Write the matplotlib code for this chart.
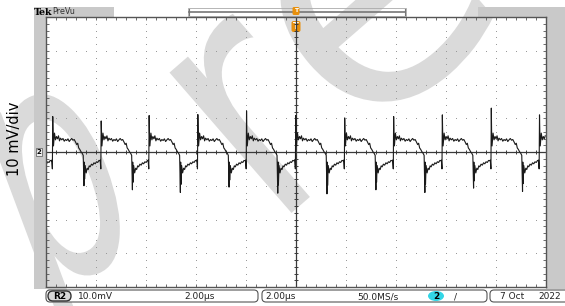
import numpy as np
import matplotlib.pyplot as plt
from matplotlib.patches import Rectangle, FancyBboxPatch, Ellipse, PathPatch
from matplotlib.textpath import TextPath
from matplotlib.transforms import Affine2D
from matplotlib.font_manager import FontProperties

W, H = 565, 306

# screen setup: 10 x 8 divisions, 2 us/div and 10 mV/div
t_div = 2.0
v_div = 10.0
n_xdiv, n_ydiv = 10, 8

# rising spike times (us) and spike tops (mV), one per switching cycle
spike_t = [0.27, 2.21, 4.13, 6.08, 8.03, 10.0, 11.96, 13.92, 15.87, 17.83, 19.76]
spike_top = [10.5, 9.2, 10.8, 11.1, 12.2, 10.8, 10.1, 10.5, 11.0, 13.0, 11.0]
# falling spike bottoms (mV), about 1.26 us after each rising spike
spike_low = [-10.0, -11.2, -12.0, -10.4, -12.2, -12.4, -11.2, -12.0, -10.7, -11.7, -11.0]
period = 1.95

# one cycle: offset from rising spike (us), level (mV)
# the spikes are filled in from the lists above (index TOP / LOW / LOW2)
cyc_dt = [-0.04, -0.015, 0.0, 0.012, 0.03, 0.07, 0.11, 0.15, 0.19, 0.23, 0.27,
          0.31, 0.36, 0.41, 0.46, 0.51, 0.56, 0.61, 0.66, 0.71, 0.76, 0.81,
          0.86, 0.91, 0.96, 1.00, 1.04, 1.08, 1.13, 1.18, 1.22, 1.25, 1.262,
          1.275, 1.30, 1.34, 1.38, 1.42, 1.46, 1.50, 1.55, 1.60, 1.65, 1.70,
          1.75, 1.80, 1.85, 1.89]
cyc_mv = [-2.4, -5.0, 0.0, 6.0, 1.8, 5.6, 3.6, 4.6, 3.9, 4.8, 3.3,
          4.1, 3.6, 4.0, 3.2, 3.7, 3.4, 3.9, 3.1, 3.6, 4.0, 3.5,
          3.7, 3.0, 2.2, 2.6, 1.2, 0.8, 0.1, -0.4, -1.0, 0.0, -3.0,
          0.0, -4.0, -6.2, -4.8, -5.2, -4.1, -4.4, -3.6, -3.9, -3.2, -3.5,
          -2.9, -3.1, -2.5, -2.6]
TOP, LOW, LOW2 = 2, 31, 33

# watermark letters: char, x scale, y scale, rotation, origin x, origin y (pixels, y up)
wm_letters = [('p', 200, 330, 20.5, 30, 12),
              ('r', 270, 340, 41, 273, 77),
              ('e', 350, 350, 41, 357, 158)]

# build the trace cycle by cycle
tt, vv = [], []
starts = [spike_t[0] - period] + spike_t
tops = [spike_top[-1]] + spike_top
lows = [spike_low[-1]] + spike_low
for s, p, d in zip(starts, tops, lows):
    lv = list(cyc_mv)
    lv[TOP] = p
    lv[LOW] = d
    lv[LOW2] = 0.8 * d
    for dt, v in zip(cyc_dt, lv):
        tt.append(s + dt)
        vv.append(v)
tt = np.array(tt)
vv = np.array(vv)
keep = (tt >= 0) & (tt <= 20)
tt, vv = tt[keep], vv[keep]

fig = plt.figure(figsize=(W / 100, H / 100), dpi=100)
fig.patch.set_facecolor('white')

# watermark layer
wm = fig.add_axes([0, 0, 1, 1])
wm.set_xlim(0, W)
wm.set_ylim(0, H)
wm.axis('off')
wm.set_zorder(0)
fp = FontProperties(family='DejaVu Sans')
for ch, sx, sy, rot, ox, oy in wm_letters:
    path = TextPath((0, 0), ch, size=1, prop=fp)
    tr = Affine2D().scale(sx, sy).rotate_deg(rot).translate(ox, oy) + wm.transData
    wm.add_patch(PathPatch(path, transform=tr, fc='#dadada', ec='none'))

# chrome layer in pixel coordinates (y down)
bg = fig.add_axes([0, 0, 1, 1])
bg.set_xlim(0, W)
bg.set_ylim(H, 0)
bg.axis('off')
bg.patch.set_alpha(0)
bg.set_zorder(1)

gray = '#c9c9c9'
bg.add_patch(Rectangle((34, 17), 12, 272, color=gray, lw=0))
bg.add_patch(Rectangle((34, 7), 80, 10, color=gray, lw=0))
bg.add_patch(Rectangle((478, 7), 87, 10, color=gray, lw=0))
bg.add_patch(Rectangle((546, 17), 19, 272, color=gray, lw=0))

# header
bg.text(33.5, 12.5, 'Tek', fontsize=6.8, fontweight='bold', family='DejaVu Serif',
        va='center', ha='left', zorder=3)
bg.text(52, 12, 'PreVu', fontsize=5.8, color='#333333', va='center', ha='left', zorder=3)
bg.add_patch(Rectangle((188, 7.5), 218, 8, fill=False, ec='#aaaaaa', lw=0.6, zorder=3))
bg.plot([189, 405], [12, 12], color='#777777', lw=1.2, zorder=3)
bg.plot([189, 189], [9, 15], color='#777777', lw=0.8, zorder=3)
bg.plot([405, 405], [9, 15], color='#777777', lw=0.8, zorder=3)
bg.add_patch(FancyBboxPatch((292.5, 7), 7, 8, boxstyle='round,pad=0,rounding_size=1.5',
                            fc='#e8900c', ec='none', zorder=4))
bg.text(296, 11, 'T', fontsize=4.5, color='white', fontweight='bold', ha='center',
        va='center', zorder=5)
bg.add_patch(FancyBboxPatch((291.5, 21), 9, 11, boxstyle='round,pad=0,rounding_size=2',
                            fc='#e8900c', ec='none', zorder=4))
bg.text(296, 26.5, 'T', fontsize=6, color='white', fontweight='bold', ha='center',
        va='center', zorder=5)

# channel marker
bg.text(39, 152, '2', fontsize=5, fontweight='bold', ha='center', va='center', zorder=5,
        bbox=dict(boxstyle='square,pad=0.15', fc='#eeeeee', ec='#555555', lw=0.5))

# vertical scale label
bg.text(15, 139, '10 mV/div', rotation=90, fontsize=10.5, ha='center', va='center', zorder=3)

# status bar
for x0, w in [(46, 212), (262, 225), (490, 80)]:
    bg.add_patch(FancyBboxPatch((x0, 290), w, 12, boxstyle='round,pad=0,rounding_size=4',
                                fc='white', ec='#555555', lw=0.8, zorder=2))
bg.add_patch(FancyBboxPatch((48, 291), 23, 10, boxstyle='round,pad=0,rounding_size=5',
                            fc='#d8d8d8', ec='#333333', lw=1.0, zorder=3))
bg.text(59.5, 296.5, 'R2', fontsize=6.5, fontweight='bold', ha='center', va='center', zorder=4)
bg.add_patch(Ellipse((436, 296), 16, 10, fc='#33d6e6', ec='none', zorder=3))
bg.text(436, 296.5, '2', fontsize=6.5, fontweight='bold', ha='center', va='center', zorder=4)
status = [(78, '10.0mV'), (184, '2.00\u03bcs'), (265, '2.00\u03bcs'),
          (357, '50.0MS/s'), (454, '/'), (500, '7 Oct'), (538, '2022')]
for x0, s in status:
    bg.text(x0, 296.5, s, fontsize=6.5, color='#222222', ha='left', va='center', zorder=4)

# scope screen
ax = fig.add_axes([46 / W, 1 - 287 / H, 499.5 / W, 270 / H])
ax.set_zorder(2)
ax.patch.set_alpha(0)
xmax = n_xdiv * t_div
ymax = n_ydiv * v_div / 2
ax.set_xlim(0, xmax)
ax.set_ylim(-ymax, ymax)

xmaj = np.arange(1, n_xdiv) * t_div
ymaj = (np.arange(1, n_ydiv) - n_ydiv / 2) * v_div
xmin = np.arange(0, xmax + 1e-9, t_div / 5)
ymin = np.arange(-ymax, ymax + 1e-9, v_div / 5)

# dotted graticule
for x in xmaj:
    ax.plot(np.full(len(ymin), x), ymin, ls='', marker='s', ms=0.7, mew=0, color='#9a9a9a')
for y in ymaj:
    ax.plot(xmin, np.full(len(xmin), y), ls='', marker='s', ms=0.7, mew=0, color='#9a9a9a')

# center cross with ticks
ax.axhline(0, color='#3a3a3a', lw=0.9)
ax.axvline(xmax / 2, color='#3a3a3a', lw=0.9)
ax.plot(xmin, np.zeros(len(xmin)), ls='', marker='|', ms=3.5, mew=0.7, color='#3a3a3a')
ax.plot(np.full(len(ymin), xmax / 2), ymin, ls='', marker='_', ms=3.5, mew=0.7, color='#3a3a3a')

# frame ticks
ax.set_xticks(xmin)
ax.set_yticks(ymin)
ax.tick_params(direction='in', length=2.5, width=0.6, color='#555555',
               top=True, right=True, labelbottom=False, labelleft=False)
for sp in ax.spines.values():
    sp.set_color('#555555')
    sp.set_linewidth(1.0)

ax.plot(tt, vv, color='#1a1a1a', lw=0.8)

fig.savefig('out.png', dpi=100)
